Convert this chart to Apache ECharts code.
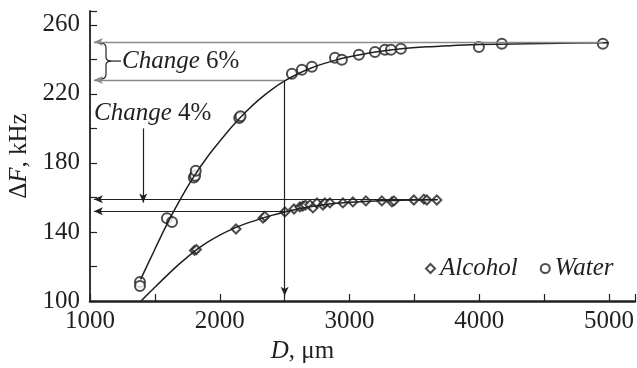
<!DOCTYPE html>
<html>
<head>
<meta charset="utf-8">
<script src="https://cdn.jsdelivr.net/npm/echarts@6/dist/echarts.min.js"></script>
<style>
  html, body { margin: 0; padding: 0; background: #fff; }
  #chart { width: 637px; height: 368px; }
</style>
</head>
<body>
<div id="chart"></div>
<script>
var waterD = [1385, 1385, 1593, 1632, 1800, 1810, 1815, 2150, 2160, 2556, 2633, 2710, 2888, 2941, 3072, 3196, 3273, 3319, 3396, 3997, 4174, 4952]
var waterF = [111, 108.7, 148, 145.8, 171.5, 172.5, 175.5, 206, 207, 231.6, 233.9, 235.7, 240.9, 239.7, 242.6, 244.3, 245.5, 245.5, 246.1, 247.2, 249, 249]

var alcD = [1805, 1820, 2125, 2333, 2348, 2502, 2572, 2618, 2640, 2660, 2695, 2718, 2749, 2795, 2810, 2849, 2949, 3026, 3126, 3249, 3327, 3342, 3496, 3573, 3596, 3673]
var alcF = [129.3, 129.8, 141.7, 148, 149, 151.6, 153.3, 154.5, 155, 155.5, 155.7, 153.9, 156.8, 155.6, 156.8, 156.8, 156.8, 157.4, 158, 158, 157.4, 158, 158.5, 159, 158.5, 158.5]

// fitted curves
var fitWaterD = [1390, 1500, 1600, 1700, 1800, 1900, 2000, 2100, 2200, 2300, 2400, 2500, 2600, 2700, 2800, 2900, 3000, 3200, 3400, 3600, 3800, 4000, 4500, 5000]
var fitWaterF = [112.5, 130, 145.5, 159.5, 172, 183, 192.5, 201.5, 209.5, 216.5, 222.5, 227.5, 231.5, 234.8, 237.5, 239.7, 241.5, 244.3, 246.2, 247.3, 248, 248.6, 249.2, 249.6]

var fitAlcD = [1393, 1500, 1600, 1700, 1800, 1900, 2000, 2100, 2200, 2300, 2400, 2500, 2600, 2700, 2800, 2900, 3000, 3200, 3400, 3680]
var fitAlcF = [100, 108, 115.3, 122.2, 128.5, 133.8, 138.2, 141.8, 144.8, 147.3, 149.6, 151.6, 153.3, 154.7, 155.8, 156.6, 157.2, 158, 158.4, 158.7]

// annotation levels
var waterLevels = [250, 228]
var alcLevels = [159, 152]
var markD = 2500
var change4D = 1410
var change4F = [200, 157]

var xTicks = [1000, 2000, 3000, 4000, 5000]
var yTicks = [100, 140, 180, 220, 260]

function pairs(xs, ys) {
    var out = []
    for (var i = 0; i < xs.length; i++) out.push([xs[i], ys[i]])
    return out
}

var ink = '#231f20'
var serif = "'Liberation Serif', 'Times New Roman', serif"

var chart = echarts.init(document.getElementById('chart'))

var option = {
    animation: false,
    backgroundColor: '#fff',
    textStyle: { fontFamily: serif, color: ink },
    grid: { left: 90, right: 2, top: 11, bottom: 67, outerBoundsMode: 'none' },
    legend: {
        data: [
            { name: 'Alcohol', icon: 'emptyDiamond' },
            { name: 'Water', icon: 'emptyCircle' }
        ],
        left: 420, top: 251,
        itemWidth: 9, itemHeight: 9, itemGap: 22,
        textStyle: { fontFamily: serif, fontStyle: 'italic', fontSize: 25, color: ink }
    },
    xAxis: {
        type: 'value', min: 1000, max: 5200, interval: 500,
        name: '{i|D}, μm',
        nameLocation: 'middle', nameGap: 36,
        nameTextStyle: {
            fontFamily: serif, fontSize: 25, color: ink, padding: [0, 120, 0, 0],
            rich: { i: { fontFamily: serif, fontStyle: 'italic', fontSize: 25, color: ink } }
        },
        splitLine: { show: false },
        axisLine: { lineStyle: { color: ink, width: 2.5 } },
        axisTick: { inside: true, length: 7, lineStyle: { color: ink, width: 1.2 } },
        axisLabel: {
            fontFamily: serif, fontSize: 25, color: ink, margin: 8,
            formatter: function (v) { return xTicks.indexOf(v) >= 0 ? String(v) : '' }
        }
    },
    yAxis: {
        type: 'value', min: 100, max: 268, interval: 20,
        name: 'Δ{i|F}, kHz',
        nameLocation: 'middle', nameGap: 58,
        nameTextStyle: {
            fontFamily: serif, fontSize: 25, color: ink,
            rich: { i: { fontFamily: serif, fontStyle: 'italic', fontSize: 25, color: ink } }
        },
        splitLine: { show: false },
        axisLine: { lineStyle: { color: ink, width: 1.8 } },
        axisTick: { inside: true, length: 7, lineStyle: { color: ink, width: 1.2 } },
        axisLabel: {
            fontFamily: serif, fontSize: 25, color: ink, margin: 10,
            formatter: function (v) { return yTicks.indexOf(v) >= 0 ? String(v) : '' }
        }
    },
    series: [
        {
            name: 'waterFit', type: 'line', data: pairs(fitWaterD, fitWaterF),
            smooth: 0.25, showSymbol: false, silent: true,
            lineStyle: { color: ink, width: 1.5 },
            markLine: {
                silent: true, symbolSize: [6, 9], label: { show: false },
                lineStyle: { color: '#8a8a8a', width: 1.4, type: 'solid' },
                data: [
                    [{ coord: [1030, waterLevels[0]], symbol: 'arrow' }, { coord: [4950, waterLevels[0]], symbol: 'none' }],
                    [{ coord: [1030, waterLevels[1]], symbol: 'arrow' }, { coord: [markD, waterLevels[1]], symbol: 'none' }]
                ]
            }
        },
        {
            name: 'alcFit', type: 'line', data: pairs(fitAlcD, fitAlcF),
            smooth: 0.25, showSymbol: false, silent: true,
            lineStyle: { color: ink, width: 1.5 },
            markLine: {
                silent: true, symbolSize: [6, 9], label: { show: false },
                lineStyle: { color: ink, width: 1.2, type: 'solid' },
                data: [
                    [{ coord: [1030, alcLevels[0]], symbol: 'arrow' }, { coord: [3680, alcLevels[0]], symbol: 'none' }],
                    [{ coord: [1030, alcLevels[1]], symbol: 'arrow' }, { coord: [markD, alcLevels[1]], symbol: 'none' }],
                    [{ coord: [markD, waterLevels[1]], symbol: 'none' }, { coord: [markD, 103], symbol: 'arrow' }],
                    [{ coord: [change4D, change4F[0]], symbol: 'none' }, { coord: [change4D, change4F[1]], symbol: 'arrow' }]
                ]
            }
        },
        {
            name: 'Alcohol', type: 'scatter', data: pairs(alcD, alcF),
            symbol: 'emptyDiamond', symbolSize: 9,
            itemStyle: { color: ink, borderColor: ink, borderWidth: 1.5 }
        },
        {
            name: 'Water', type: 'scatter', data: pairs(waterD, waterF),
            symbol: 'emptyCircle', symbolSize: 10,
            itemStyle: { color: ink, borderColor: ink, borderWidth: 1.3 }
        }
    ]
}
chart.setOption(option)

// brace and labels for the annotations
var braceHi = chart.convertToPixel({ gridIndex: 0 }, [1000, waterLevels[0]])
var braceLo = chart.convertToPixel({ gridIndex: 0 }, [1000, waterLevels[1]])
var bx0 = braceHi[0] + 11, by0 = braceHi[1] + 1, by1 = braceLo[1] - 1, bym = (by0 + by1) / 2
var bxm = bx0 + 5
var braceStyle = { fill: null, stroke: ink, lineWidth: 1.2 }
function curve(a, b, c, d, e, f) {
    return { type: 'bezierCurve', silent: true, shape: { x1: a, y1: b, x2: c, y2: d, cpx1: e, cpy1: f }, style: braceStyle }
}
function seg(a, b, c, d) {
    return { type: 'line', silent: true, shape: { x1: a, y1: b, x2: c, y2: d }, style: braceStyle }
}
var c4 = chart.convertToPixel({ gridIndex: 0 }, [change4D, change4F[0]])
var richItalic = { i: { fontFamily: serif, fontStyle: 'italic', fontSize: 25, fill: ink } }

chart.setOption({
    graphic: [
        curve(bx0, by0, bxm, by0 + 5, bxm, by0),
        seg(bxm, by0 + 5, bxm, bym - 4),
        curve(bxm, bym - 4, bxm + 5, bym, bxm, bym),
        curve(bxm + 5, bym, bxm, bym + 4, bxm, bym),
        seg(bxm, bym + 4, bxm, by1 - 5),
        curve(bxm, by1 - 5, bx0, by1, bxm, by1),
        seg(bxm + 5, bym, bxm + 15, bym),
        {
            type: 'text', silent: true, x: bxm + 16, y: bym,
            style: {
                text: '{i|Change} 6%', fill: ink, fontFamily: serif, fontSize: 25, verticalAlign: 'middle',
                rich: richItalic
            }
        },
        {
            type: 'text', silent: true, x: 94, y: c4[1] - 15,
            style: {
                text: '{i|Change} 4%', fill: ink, fontFamily: serif, fontSize: 25, verticalAlign: 'middle',
                rich: richItalic
            }
        }
    ]
})
</script>
</body>
</html>
